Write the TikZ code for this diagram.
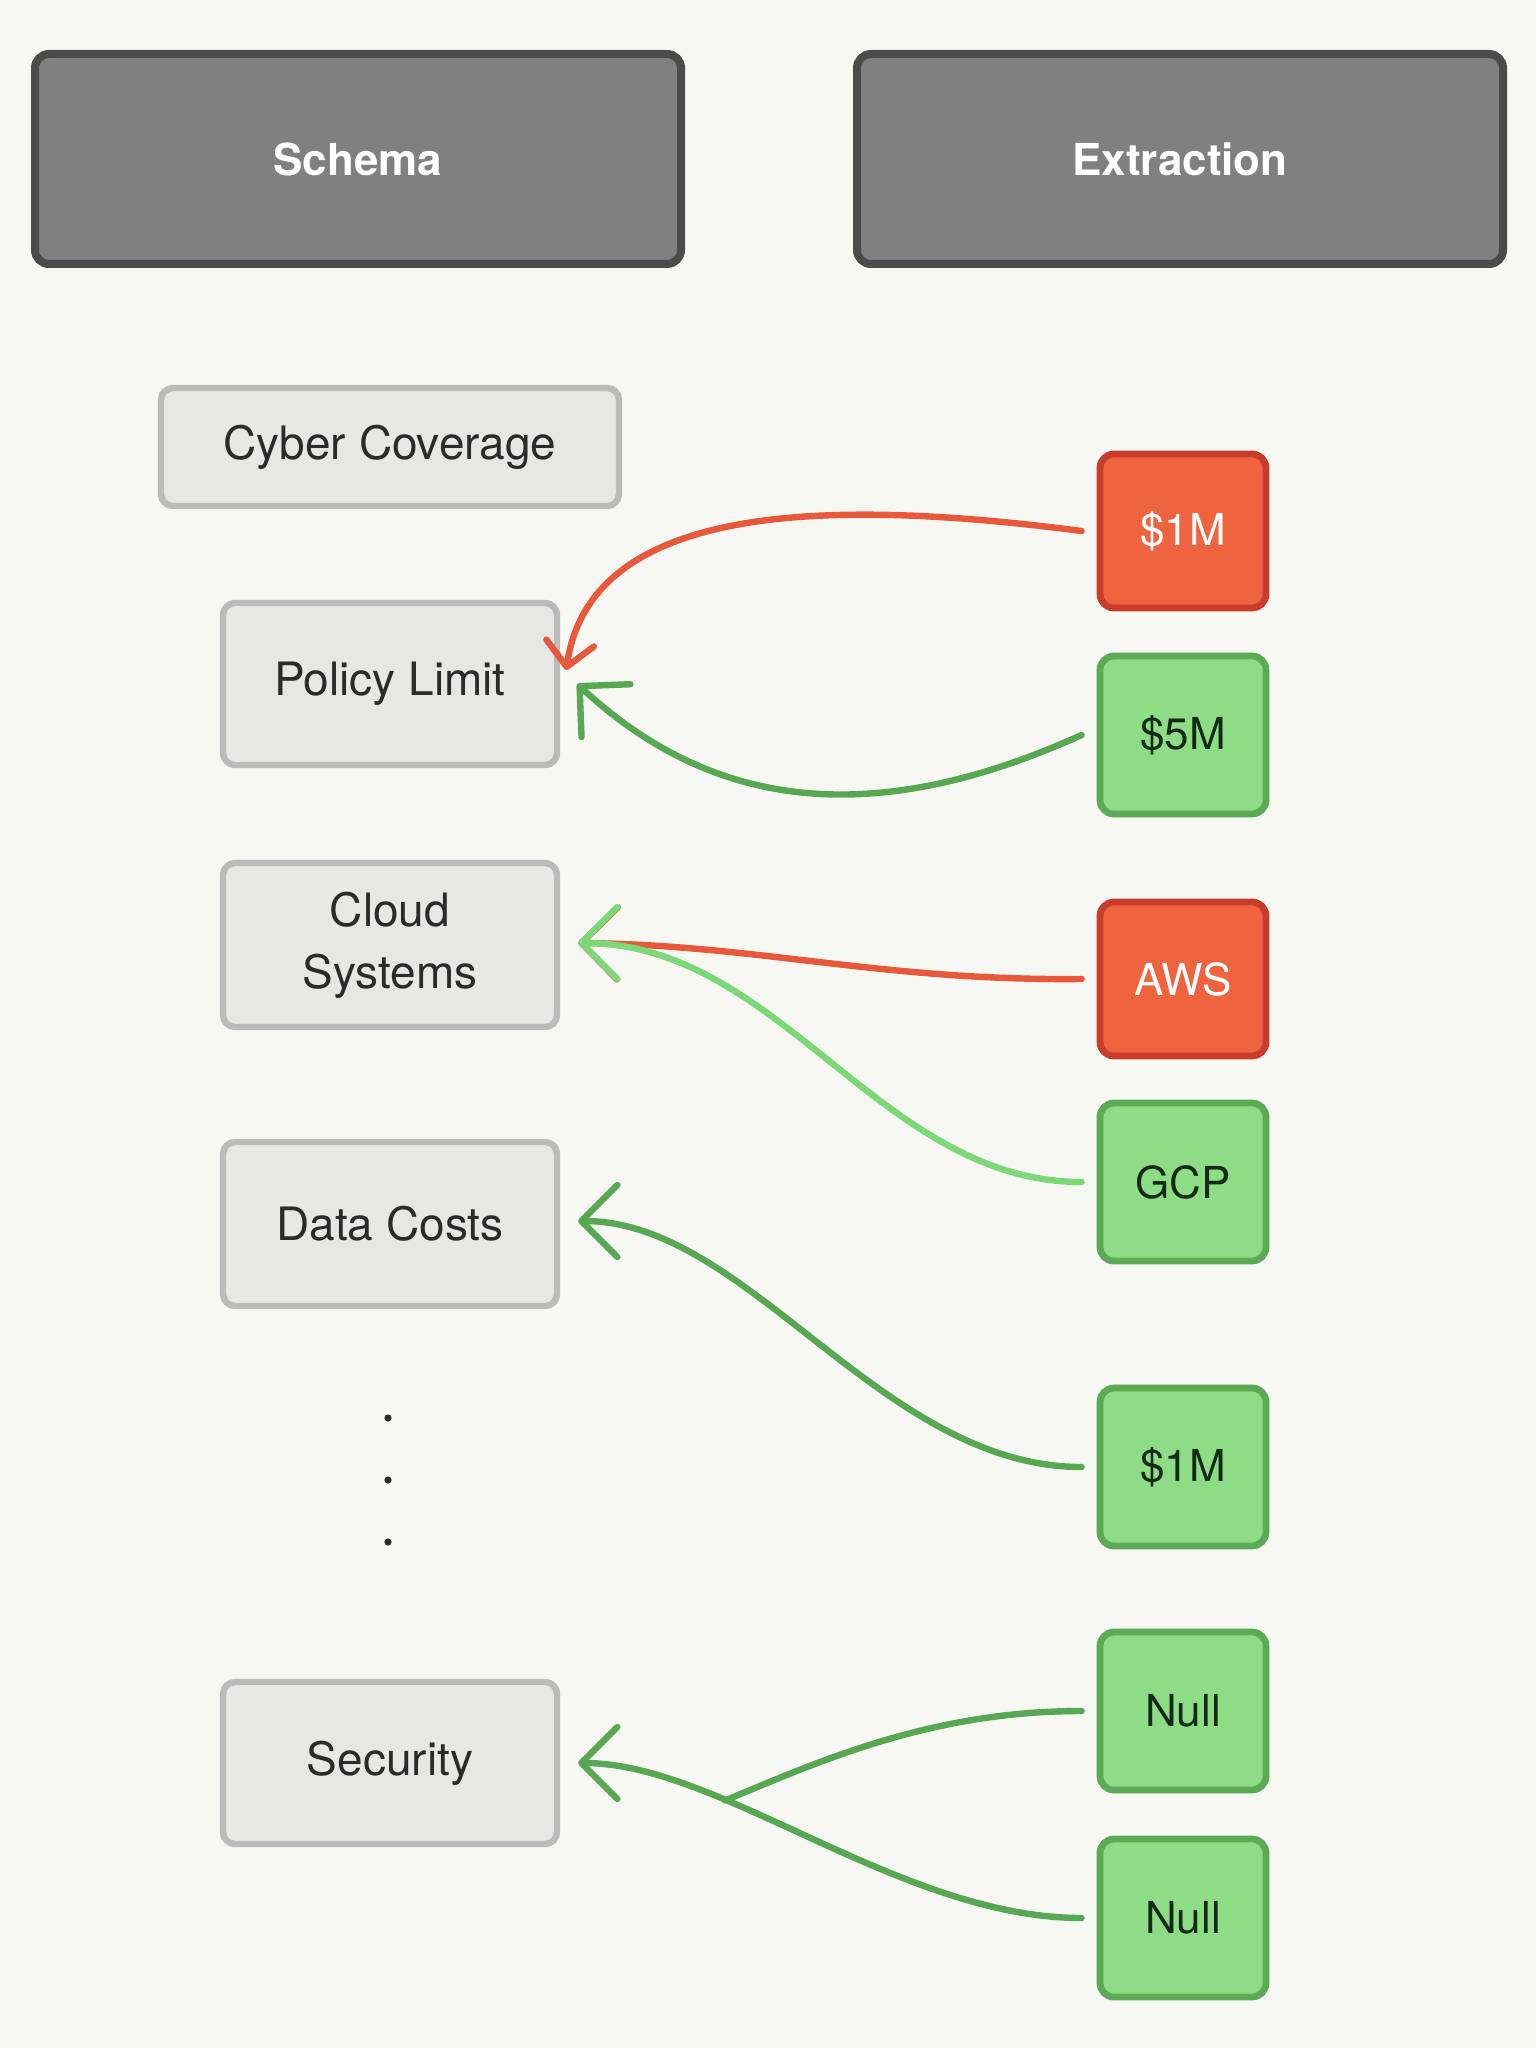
\documentclass[tikz,border=0pt]{standalone}
\usepackage{fontspec}
\setmainfont{TeX Gyre Heros}
\usetikzlibrary{arrows.meta}
\definecolor{bg}{HTML}{F7F7F4}
\definecolor{hdrfill}{HTML}{808080}
\definecolor{hdrborder}{HTML}{4B4B4B}
\definecolor{fieldfill}{HTML}{E7E7E6}
\definecolor{fieldborder}{HTML}{BBBBBB}
\definecolor{fieldtext}{HTML}{2B2B2B}
\definecolor{redfill}{HTML}{EE643F}
\definecolor{redborder}{HTML}{C93B2A}
\definecolor{greenfill}{HTML}{8EDD86}
\definecolor{greenborder}{HTML}{5CAA56}
\definecolor{greentext}{HTML}{132A16}
\definecolor{redline}{HTML}{E8583A}
\definecolor{greenline}{HTML}{58A853}
\definecolor{lightgreenline}{HTML}{7DD877}
\tikzset{
  header/.style={draw=hdrborder, fill=hdrfill, line width=4pt, rounded corners=7pt,
    minimum width=323pt, minimum height=105pt, text=white,
    font=\fontsize{22}{26}\selectfont\bfseries},
  field/.style={draw=fieldborder, fill=fieldfill, line width=3.2pt, rounded corners=6pt,
    minimum width=167pt, minimum height=81pt, text=fieldtext, align=center,
    font=\fontsize{23}{31}\selectfont},
  valred/.style={draw=redborder, fill=redfill, line width=3.4pt, rounded corners=7pt,
    minimum width=83pt, minimum height=77pt, text=white,
    font=\fontsize{22}{26}\selectfont},
  valgreen/.style={draw=greenborder, fill=greenfill, line width=3.4pt, rounded corners=7pt,
    minimum width=83pt, minimum height=79pt, text=greentext,
    font=\fontsize{22}{26}\selectfont},
  link/.style={line width=3.2pt, line cap=round, line join=round},
  tip/.style={-{Straight Barb[length=18pt,width=36pt,round]}},
  smalltip/.style={-{Straight Barb[length=12pt,width=24pt,round]}},
}
\begin{document}
\begin{tikzpicture}[x=0.5pt,y=-0.5pt]
\fill[bg] (0,0) rectangle (1536,2048);
\useasboundingbox (0,0) rectangle (1536,2048);

% headers
\node[header] (schema) at (358,159) {Schema};
\node[header] (extraction) at (1180,159) {Extraction};

% schema fields
\node[field, minimum width=229pt, minimum height=59pt] (cyber) at (390,447) {Cyber Coverage};
\node[field] (policy) at (390,684) {Policy Limit};
\node[field, minimum height=82pt] (cloud) at (390,945) {Cloud\\Systems};
\node[field, minimum height=82pt] (data) at (390,1224) {Data Costs};
\node[field] (security) at (390,1763) {Security};

% dots
\fill[fieldtext] (388,1418) circle (1.8pt);
\fill[fieldtext] (388,1480) circle (1.8pt);
\fill[fieldtext] (388,1542) circle (1.8pt);

% extracted values
\node[valred] (v1) at (1183,531) {\$1M};
\node[valgreen] (v5) at (1183,735) {\$5M};
\node[valred] (aws) at (1183,979) {AWS};
\node[valgreen] (gcp) at (1183,1182) {GCP};
\node[valgreen] (d1) at (1183,1467) {\$1M};
\node[valgreen] (n1) at (1183,1711) {Null};
\node[valgreen] (n2) at (1183,1918) {Null};

% connectors
\draw[link, smalltip, redline] ([xshift=-7.5pt]v1.west) .. controls +(-261,-34) and +(24,-165) .. ([xshift=3pt,yshift=7pt]policy.east);
\draw[link, tip, greenline] ([xshift=-7.5pt]v5.west) .. controls +(-210,95) and +(135,125) .. ([xshift=8.5pt]policy.east);

\draw[link, tip, redline] ([xshift=-7.5pt]aws.west) .. controls +(-200,2) and +(180,2) .. ([xshift=9pt,yshift=1pt]cloud.east);
\draw[link, tip, lightgreenline] ([xshift=-7.5pt]gcp.west) .. controls +(-201,0) and +(202,0) .. ([xshift=9pt,yshift=1pt]cloud.east);

\draw[link, tip, greenline] ([xshift=-7.5pt]d1.west) .. controls +(-200,0) and +(170,0) .. ([xshift=9pt,yshift=1.5pt]data.east);

\draw[link, tip, greenline] ([xshift=-7.5pt]n2.west) .. controls +(-181,0) and +(142,0) .. coordinate[pos=0.68] (merge) ([xshift=9pt]security.east);
\draw[link, greenline] ([xshift=-7.5pt]n1.west) .. controls +(-150,0) and +(96,-40) .. (merge);
\end{tikzpicture}
\end{document}
